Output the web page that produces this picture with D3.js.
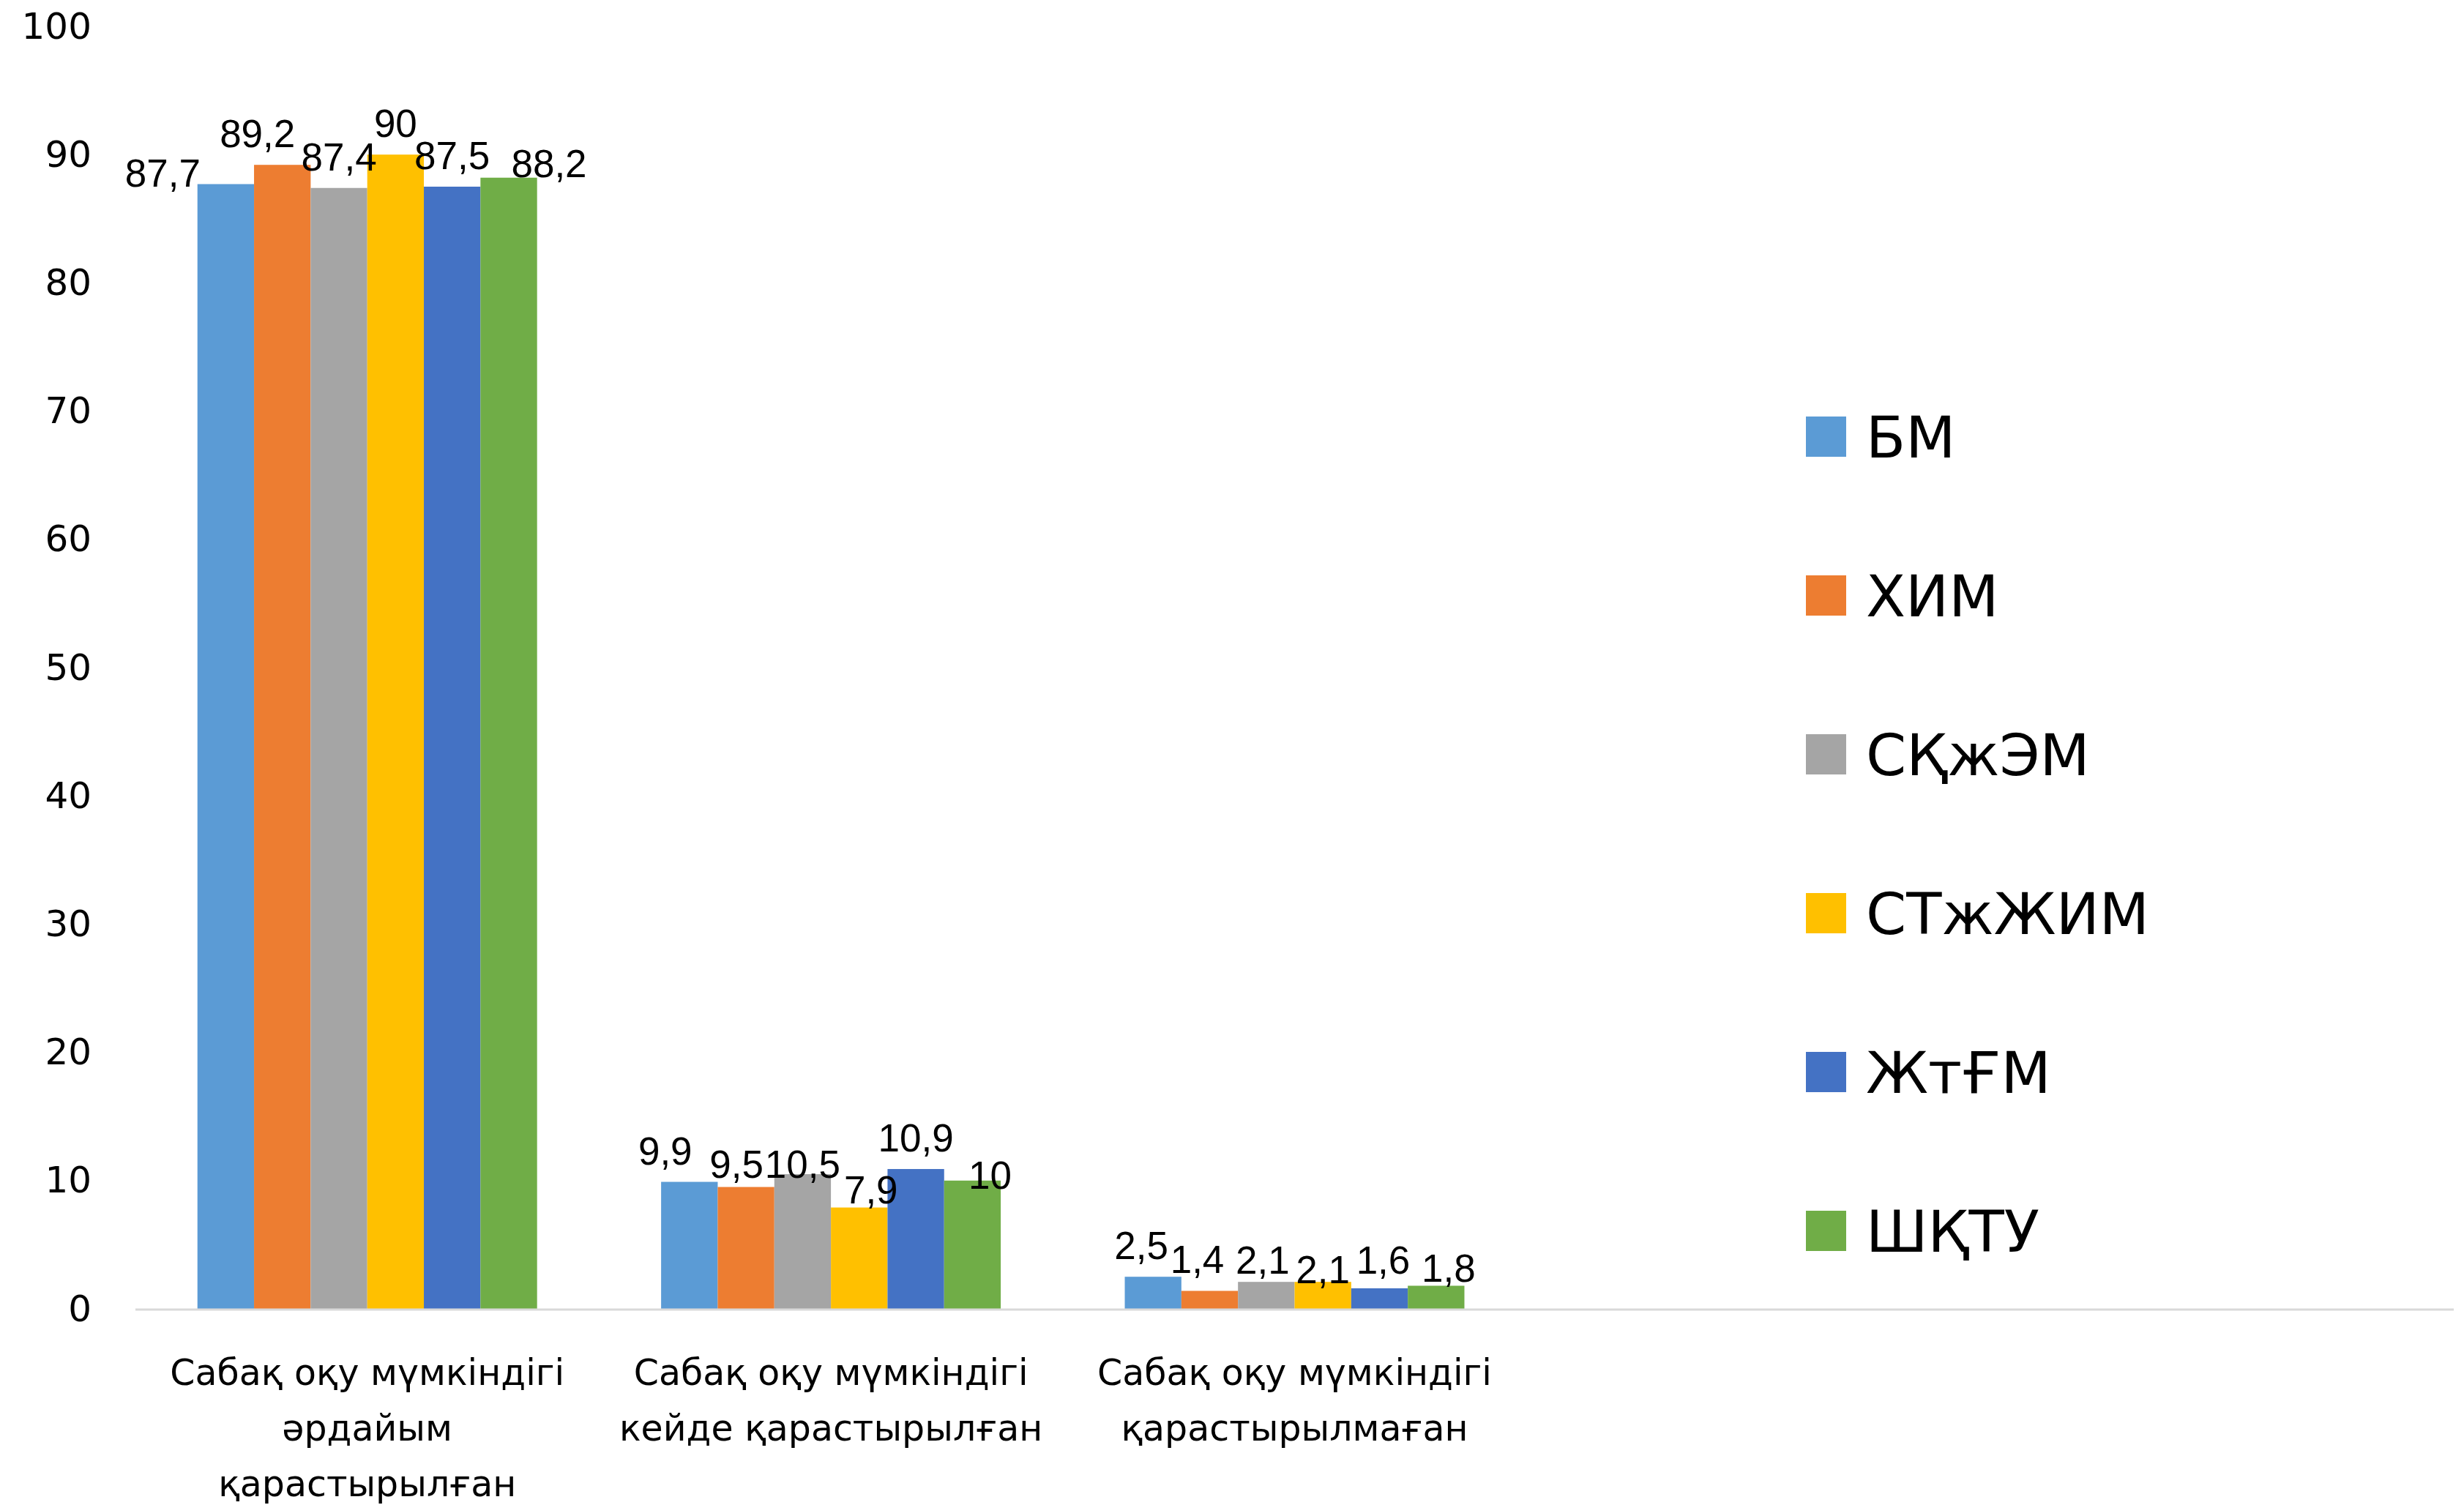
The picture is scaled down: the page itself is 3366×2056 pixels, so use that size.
<!DOCTYPE html>
<html>
<head>
<meta charset="utf-8">
<script src="https://cdn.jsdelivr.net/npm/d3@7"></script>
<style>
  body { margin: 0; background: #fff; }
  text { font-family: "Liberation Sans", Arial, sans-serif; fill: #000; }
  .wide { font-family: "DejaVu Sans", "Liberation Sans", sans-serif; }
</style>
</head>
<body>
<div id="chart"></div>
<script>
const categories = [
  "Сабақ оқу мүмкіндігі\nәрдайым\nқарастырылған",
  "Сабақ оқу мүмкіндігі\nкейде қарастырылған",
  "Сабақ оқу мүмкіндігі\nқарастырылмаған",
];
const seriesNames = ["БМ", "ХИМ", "СҚжЭМ", "СТжЖИМ", "ЖтҒМ", "ШҚТУ"];
const colors = ["#5b9bd5", "#ed7d31", "#a5a5a5", "#ffc000", "#4472c4", "#70ad47"];

// values[series][category]
const values = [
  [87.7, 9.9, 2.5],
  [89.2, 9.5, 1.4],
  [87.4, 10.5, 2.1],
  [90, 7.9, 2.1],
  [87.5, 10.9, 1.6],
  [88.2, 10, 1.8],
];
const yTicks = [0, 10, 20, 30, 40, 50, 60, 70, 80, 90, 100];

// hand-moved data labels in the original, [dx, dy] per series per category
const labelNudge = [
  [[-86, 28], [-33, 0], [-16, 0]],
  [[-34, 0], [-13, 11], [-17, 0]],
  [[0, 0], [0, 29], [-5, 13]],
  [[0, 0], [16, 18], [0, 26]],
  [[0, 0], [0, 0], [5, 4]],
  [[55, 23], [24, 35], [17, 19]],
];

const width = 3366;
const height = 2056;
const slots = 5; // plot area leaves two empty category slots on the right
const margin = { left: 185, right: 14, top: 36, bottom: 268 };

const svg = d3
  .select("#chart")
  .append("svg")
  .attr("width", width)
  .attr("height", height);

const x0 = d3
  .scaleBand()
  .domain(d3.range(slots))
  .range([margin.left, width - margin.right])
  .paddingInner(0.2675)
  .paddingOuter(0.13375);

const x1 = d3
  .scaleBand()
  .domain(d3.range(seriesNames.length))
  .range([0, x0.bandwidth()]);

const y = d3
  .scaleLinear()
  .domain([0, 100])
  .range([height - margin.bottom, margin.top]);

// y tick labels (no axis line, no grid)
svg
  .append("g")
  .attr("transform", `translate(${margin.left - 60},0)`)
  .call(d3.axisLeft(y).tickValues(yTicks).tickSize(0).tickPadding(0))
  .call((g) => g.select(".domain").remove())
  .selectAll("text")
  .attr("class", "wide")
  .attr("font-size", "50px")
  .attr("font-family", null)
  .attr("fill", "#000");

// bars
const flat = [];
values.forEach((row, s) =>
  row.forEach((v, c) => flat.push({ s, c, v }))
);

svg
  .append("g")
  .selectAll("rect")
  .data(flat)
  .join("rect")
  .attr("x", (d) => x0(d.c) + x1(d.s))
  .attr("y", (d) => y(d.v))
  .attr("width", x1.bandwidth())
  .attr("height", (d) => y(0) - y(d.v))
  .attr("fill", (d) => colors[d.s]);

// category axis line
svg
  .append("line")
  .attr("x1", margin.left)
  .attr("x2", width - margin.right)
  .attr("y1", y(0) + 1)
  .attr("y2", y(0) + 1)
  .attr("stroke", "#d9d9d9")
  .attr("stroke-width", 3);

// data labels
svg
  .append("g")
  .selectAll("text")
  .data(flat)
  .join("text")
  .attr("x", (d) => x0(d.c) + x1(d.s) + x1.bandwidth() / 2 + labelNudge[d.s][d.c][0])
  .attr("y", (d) => y(d.v) - 24 + labelNudge[d.s][d.c][1])
  .attr("text-anchor", "middle")
  .attr("font-size", "53px")
  .text((d) => String(d.v).replace(".", ","));

// category labels
const catG = svg
  .append("g")
  .selectAll("text")
  .data(categories)
  .join("text")
  .attr("class", "wide")
  .attr("text-anchor", "middle")
  .attr("font-size", "49px")
  .attr("transform", (d, i) => `translate(${x0(i) + x0.bandwidth() / 2},${y(0) + 104})`);

catG
  .selectAll("tspan")
  .data((d) => d.split("\n"))
  .join("tspan")
  .attr("x", 0)
  .attr("y", (d, i) => i * 76)
  .text((d) => d);

// legend
const legend = svg
  .append("g")
  .attr("transform", "translate(2467,596)")
  .selectAll("g")
  .data(seriesNames)
  .join("g")
  .attr("transform", (d, i) => `translate(0,${i * 217})`);

legend
  .append("rect")
  .attr("x", 0)
  .attr("y", -27)
  .attr("width", 55)
  .attr("height", 55)
  .attr("fill", (d, i) => colors[i]);

legend
  .append("text")
  .attr("class", "wide")
  .attr("x", 82)
  .attr("y", 29)
  .attr("font-size", "79px")
  .text((d) => d);
</script>
</body>
</html>
